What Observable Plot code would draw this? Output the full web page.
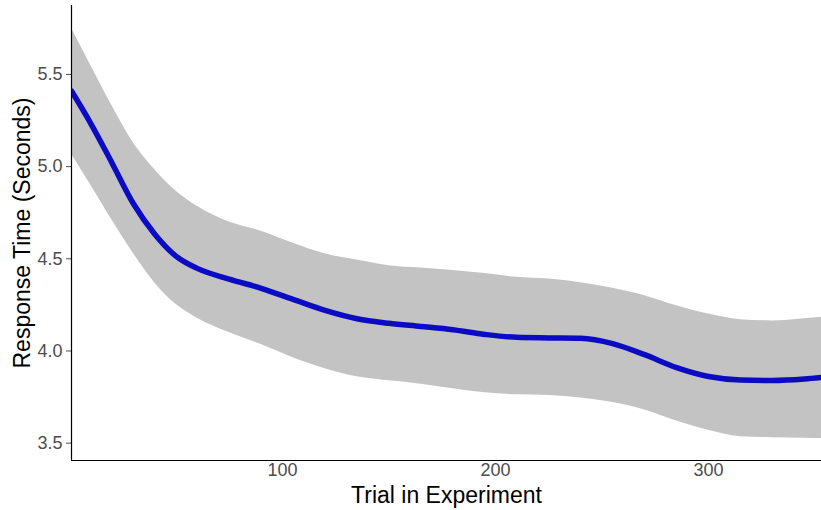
<!DOCTYPE html>
<html><head><meta charset="utf-8">
<script src="https://cdn.jsdelivr.net/npm/d3@7"></script>
<script src="https://cdn.jsdelivr.net/npm/@observablehq/plot@0.6"></script>
<style>body{margin:0;background:#fff}</style>
</head><body><div id="chart"></div>
<script>
const trial = [1, 10, 20, 30, 40, 50, 60, 75, 90, 105, 120, 135, 150, 165, 180, 195, 210, 225, 240, 255, 270, 285, 300, 315, 330, 345, 353];
const fit   = [5.41, 5.235, 5.02, 4.80, 4.635, 4.515, 4.448, 4.39, 4.34, 4.28, 4.22, 4.175, 4.15, 4.133, 4.115, 4.09, 4.074, 4.071, 4.069, 4.04, 3.98, 3.91, 3.862, 3.843, 3.840, 3.848, 3.856];
const upper = [5.75, 5.55, 5.33, 5.13, 4.985, 4.868, 4.785, 4.70, 4.65, 4.585, 4.527, 4.493, 4.463, 4.45, 4.437, 4.42, 4.40, 4.39, 4.37, 4.34, 4.30, 4.245, 4.20, 4.17, 4.163, 4.175, 4.183];
const lower = [5.067, 4.90, 4.71, 4.53, 4.37, 4.253, 4.178, 4.10, 4.035, 3.964, 3.904, 3.86, 3.838, 3.82, 3.795, 3.773, 3.762, 3.758, 3.745, 3.72, 3.68, 3.62, 3.57, 3.535, 3.53, 3.527, 3.525];
const xTicks = [100, 200, 300];
const yTicks = [3.5, 4.0, 4.5, 5.0, 5.5];
const xTitle = "Trial in Experiment";
const yTitle = "Response Time (Seconds)";

const rows = trial.map((t, i) => ({trial: t, fit: fit[i], lo: lower[i], hi: upper[i]}));
const xDomain = [1, 353];
const yDomain = [3.406, 5.874];

const chart = Plot.plot({
  width: 821, height: 510,
  marginLeft: 71, marginRight: 0, marginTop: 5, marginBottom: 50,
  style: {fontFamily: "'Liberation Sans', Arial, sans-serif", background: "#fff", overflow: "visible"},
  x: {domain: xDomain},
  y: {domain: yDomain},
  marks: [
    Plot.areaY(rows, {x: "trial", y1: "lo", y2: "hi", fill: "#c3c3c3", curve: "monotone-x", clip: true}),
    Plot.lineY(rows, {x: "trial", y: "fit", stroke: "#0b0bc4", strokeWidth: 5.5, curve: "monotone-x", clip: true}),
    Plot.axisX({ticks: xTicks, tickSize: 0, tickPadding: 3, fontSize: 18, color: "#4d4d4d", label: null}),
    Plot.axisY({ticks: yTicks, tickSize: 5, tickPadding: 4, tickFormat: d3.format(".1f"), fontSize: 18, color: "#4d4d4d", label: null}),
    Plot.ruleX([xDomain[0]], {stroke: "#000", strokeWidth: 1.2}),
    Plot.ruleY([yDomain[0]], {stroke: "#000", strokeWidth: 1.2}),
    Plot.text([xTitle], {frameAnchor: "bottom", dy: 35, fontSize: 23, fill: "#000", lineAnchor: "middle", textAnchor: "middle"}),
    Plot.text([yTitle], {frameAnchor: "left", dx: -49, rotate: -90, fontSize: 23, fill: "#000", lineAnchor: "middle", textAnchor: "middle"})
  ]
});
document.getElementById("chart").appendChild(chart);
</script>
</body></html>
